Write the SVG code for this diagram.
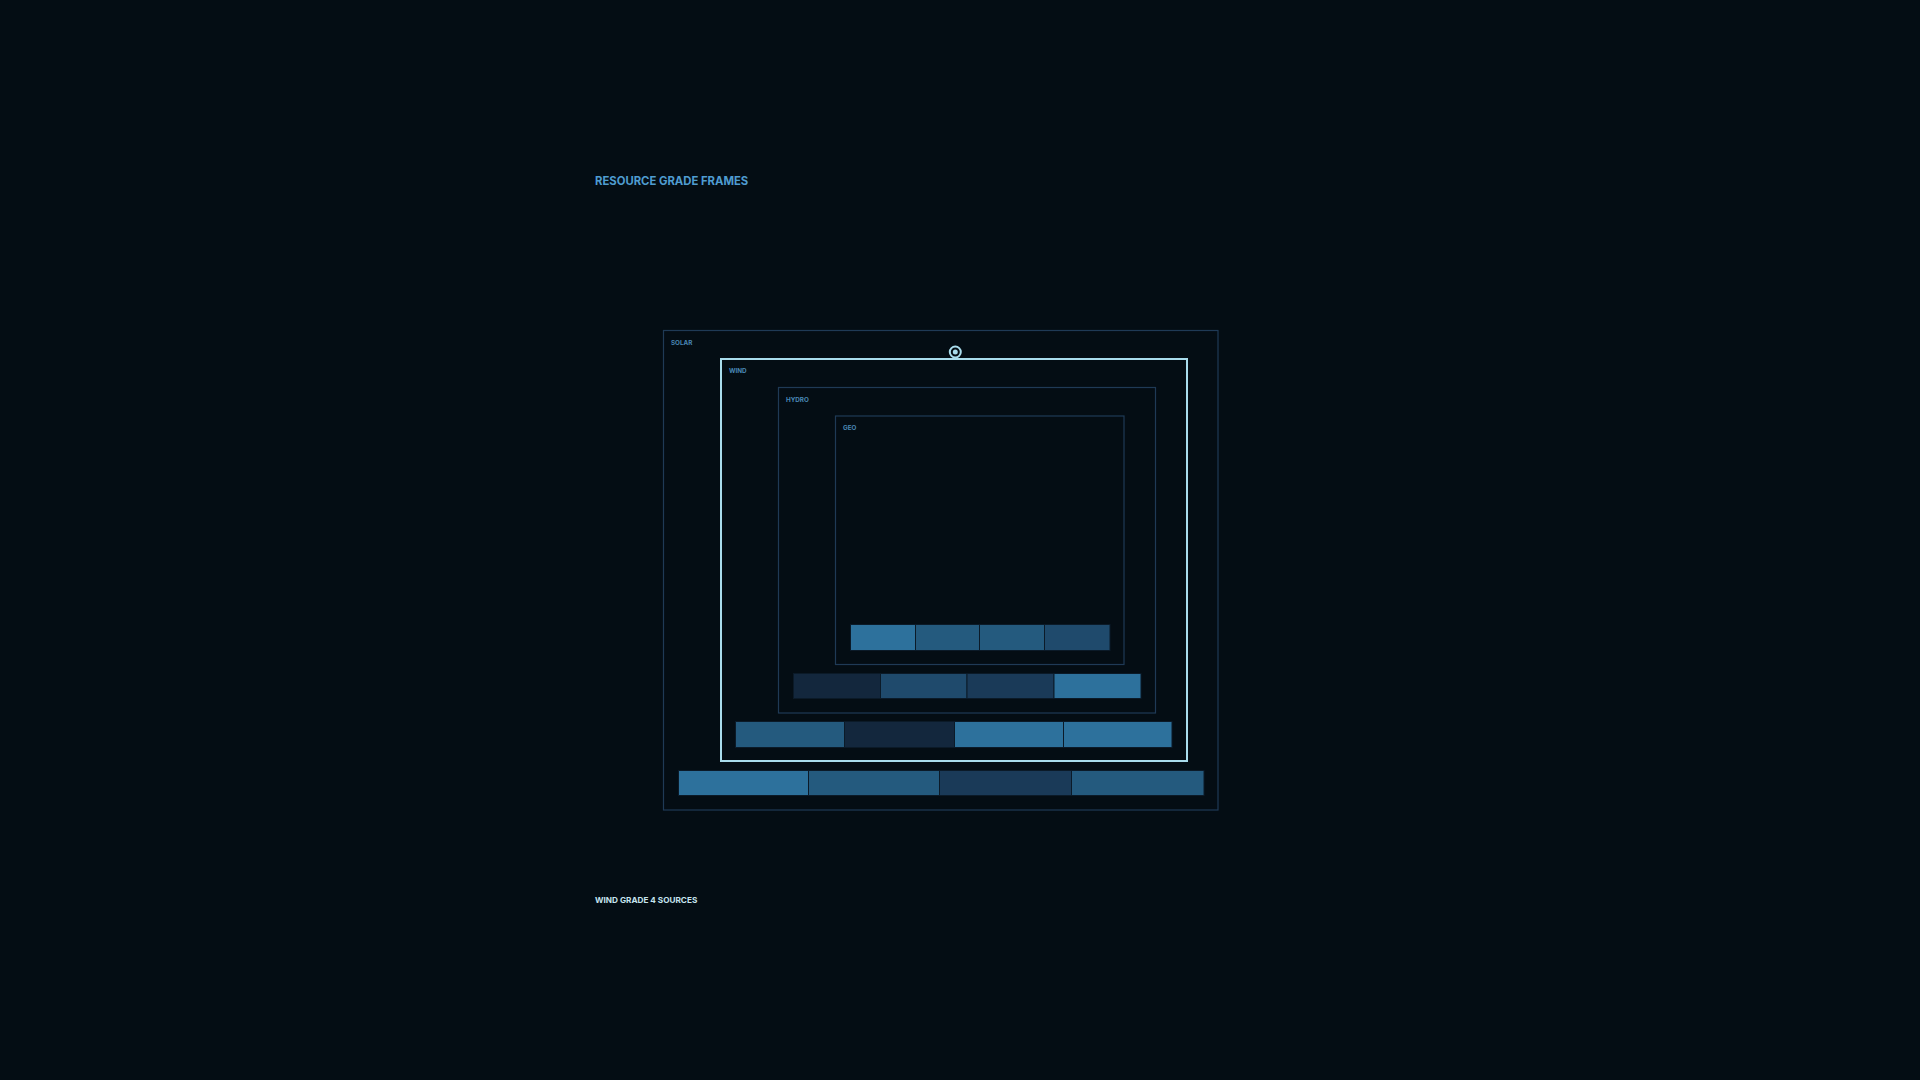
<svg xmlns="http://www.w3.org/2000/svg" width="1920" height="1080" viewBox="0 0 1920 1080">
  <style>
    .frame { fill: none; stroke: #1f3a56; stroke-width: 1.2; }
    .frame-active { fill: none; stroke: #a9dcec; stroke-width: 2; }
    .flabel { font-family: "Inter", "Liberation Sans", sans-serif; font-weight: 700; font-size: 6.3px; fill: #4a88b6; }
    .title { font-family: "Inter", "Liberation Sans", sans-serif; font-weight: 700; font-size: 11.3px; fill: #4f9cd0; }
    .caption { font-family: "Inter", "Liberation Sans", sans-serif; font-weight: 700; font-size: 8.2px; fill: #c6e4ef; }
    .bar { stroke: #0b1a28; stroke-width: 1; }
    .g1 { fill: #2d719c; }
    .g2 { fill: #245a7e; }
    .g3 { fill: #1f4a6c; }
    .g4 { fill: #1a3a58; }
    .g5 { fill: #13273d; }
  </style>
  <rect x="0" y="0" width="1920" height="1080" fill="#040d14"/>
  <text class="title" x="595" y="184.5">RESOURCE GRADE FRAMES</text>

  <g id="solar">
    <rect class="frame" x="663.5" y="330.5" width="554.5" height="479.5"/>
    <text class="flabel" x="671" y="345">SOLAR</text>
    <rect class="bar g1" x="678.5" y="770.5" width="130" height="25"/>
    <rect class="bar g2" x="808.5" y="770.5" width="131" height="25"/>
    <rect class="bar g4" x="939.5" y="770.5" width="132" height="25"/>
    <rect class="bar g2" x="1071.5" y="770.5" width="132.5" height="25"/>
  </g>

  <g id="wind">
    <rect class="frame-active" x="721" y="359" width="466" height="402"/>
    <text class="flabel" x="729" y="373">WIND</text>
    <rect class="bar g2" x="735.5" y="721.5" width="109" height="26"/>
    <rect class="bar g5" x="844.5" y="721.5" width="110" height="26"/>
    <rect class="bar g1" x="954.5" y="721.5" width="109" height="26"/>
    <rect class="bar g1" x="1063.5" y="721.5" width="108.5" height="26"/>
  </g>

  <g id="hydro">
    <rect class="frame" x="778.5" y="387.5" width="377" height="325.5"/>
    <text class="flabel" x="786" y="402">HYDRO</text>
    <rect class="bar g5" x="793.5" y="673.5" width="87" height="25"/>
    <rect class="bar g3" x="880.5" y="673.5" width="86.5" height="25"/>
    <rect class="bar g4" x="967" y="673.5" width="87" height="25"/>
    <rect class="bar g1" x="1054" y="673.5" width="87" height="25"/>
  </g>

  <g id="geo">
    <rect class="frame" x="835.5" y="416" width="288.5" height="248.5"/>
    <text class="flabel" x="843" y="430">GEO</text>
    <rect class="bar g1" x="850.5" y="624.5" width="65" height="26"/>
    <rect class="bar g2" x="915.5" y="624.5" width="64" height="26"/>
    <rect class="bar g2" x="979.5" y="624.5" width="65" height="26"/>
    <rect class="bar g3" x="1044.5" y="624.5" width="65.5" height="26"/>
  </g>

  <g id="marker">
    <circle cx="955.3" cy="352" r="5.5" fill="#040d14" stroke="#a9dcec" stroke-width="2"/>
    <circle cx="955.3" cy="352" r="2.5" fill="#a9dcec"/>
  </g>

  <g id="connectors"></g>

  <text class="caption" x="595" y="902.5">WIND GRADE 4 SOURCES</text>
</svg>
